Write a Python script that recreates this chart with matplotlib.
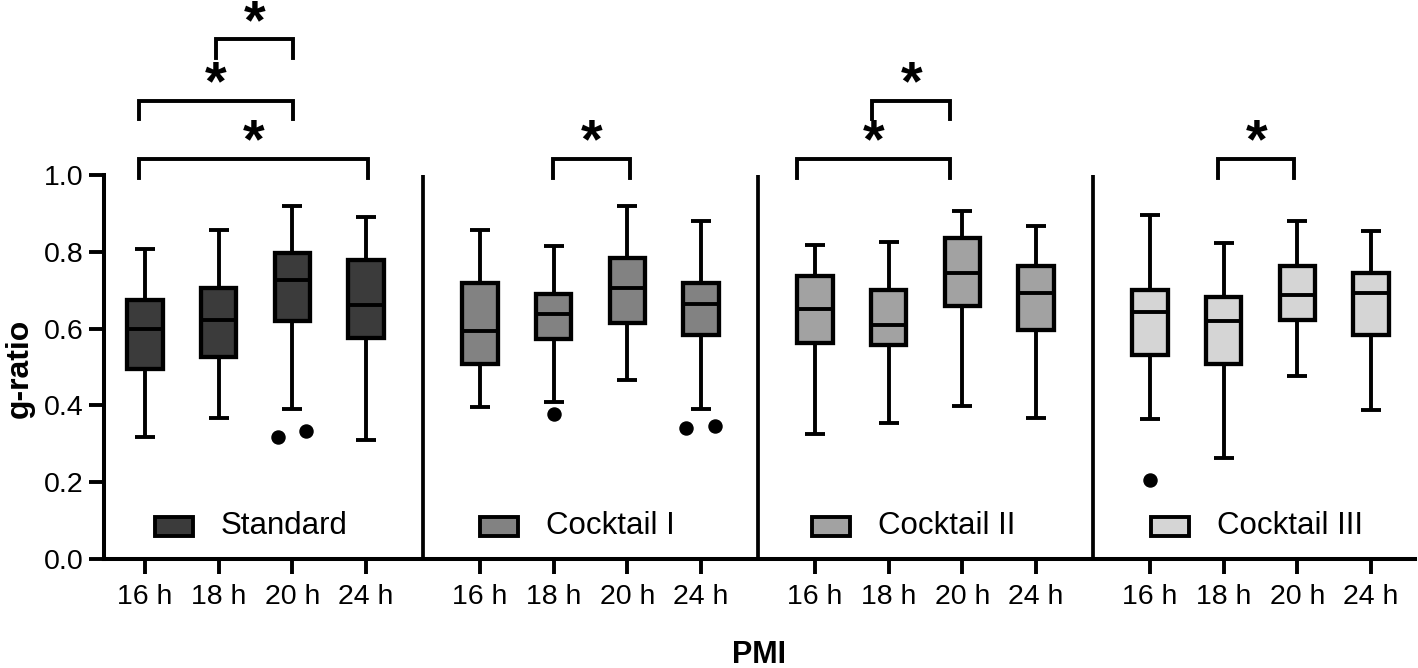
import matplotlib
matplotlib.use("Agg")
import matplotlib.pyplot as plt
from matplotlib.patches import Rectangle

plt.rcParams['font.family'] = ['Liberation Sans', 'DejaVu Sans']

# ---------------- data ----------------
groups = ["Standard", "Cocktail I", "Cocktail II", "Cocktail III"]
pmi_labels = ["16 h", "18 h", "20 h", "24 h"]
colors = ["#3b3b3b", "#828282", "#a2a2a2", "#d5d5d5"]

whislo = [[0.319, 0.368, 0.390, 0.311],
          [0.395, 0.410, 0.467, 0.390],
          [0.326, 0.353, 0.399, 0.368],
          [0.365, 0.264, 0.476, 0.387]]
q1 = [[0.495, 0.525, 0.619, 0.576],
      [0.508, 0.573, 0.614, 0.584],
      [0.563, 0.556, 0.660, 0.597],
      [0.531, 0.507, 0.623, 0.584]]
med = [[0.599, 0.623, 0.726, 0.662],
       [0.593, 0.638, 0.707, 0.663],
       [0.651, 0.609, 0.745, 0.692],
       [0.643, 0.619, 0.688, 0.694]]
q3 = [[0.675, 0.706, 0.797, 0.779],
      [0.719, 0.691, 0.783, 0.719],
      [0.736, 0.701, 0.836, 0.764],
      [0.700, 0.681, 0.764, 0.745]]
whishi = [[0.807, 0.857, 0.918, 0.890],
          [0.857, 0.815, 0.918, 0.881],
          [0.819, 0.825, 0.905, 0.867],
          [0.895, 0.823, 0.881, 0.854]]
# outliers: (group, pmi index) -> values
outliers = {(0, 2): [0.319, 0.333],
            (1, 1): [0.378],
            (1, 3): [0.341, 0.346],
            (3, 0): [0.207]}
# significance: (group, i, j, level)
sig_pairs = [(0, 0, 3, 0), (0, 0, 2, 1), (0, 1, 2, 2),
             (1, 1, 2, 0),
             (2, 0, 2, 0), (2, 1, 2, 1),
             (3, 1, 2, 0)]

# ---------------- layout ----------------
GSTEP = 4.545
fig = plt.figure(figsize=(14.18, 6.68), dpi=100)
ax = fig.add_axes([104 / 1418, 109 / 668, 1311 / 1418, 384 / 668])

positions, stats, fcols = [], [], []
for g in range(4):
    for i in range(4):
        positions.append(g * GSTEP + i)
        stats.append(dict(med=med[g][i], q1=q1[g][i], q3=q3[g][i],
                          whislo=whislo[g][i], whishi=whishi[g][i], fliers=[]))
        fcols.append(colors[g])

bp = ax.bxp(stats, positions=positions, widths=0.48, capwidths=0.27,
            patch_artist=True, showfliers=False,
            boxprops=dict(edgecolor='black', linewidth=3.1),
            whiskerprops=dict(color='black', linewidth=2.8, solid_capstyle='butt'),
            capprops=dict(color='black', linewidth=2.8, solid_capstyle='butt'),
            medianprops=dict(color='black', linewidth=2.8, solid_capstyle='butt'))
for patch, c in zip(bp['boxes'], fcols):
    patch.set_facecolor(c)

for (g, i), vals in outliers.items():
    x0 = g * GSTEP + i
    offs = [0.0] if len(vals) == 1 else [-0.2, 0.19]
    for v, o in zip(vals, offs):
        ax.plot(x0 + o, v, 'o', color='black', markersize=9.4, clip_on=False, zorder=5)

# group separators
for g in range(1, 4):
    xs = g * GSTEP - (GSTEP - 3) / 2
    ax.plot([xs, xs], [0, 1.0], color='black', linewidth=2.7, solid_capstyle='butt')

# legends inside each group
leg_left = [0.136, 4.543, 9.05, 13.65]
for g in range(4):
    xl = leg_left[g]
    ax.add_patch(Rectangle((xl, 0.060), 0.52, 0.050, facecolor=colors[g],
                           edgecolor='black', linewidth=2.8, clip_on=False, zorder=4))
    ax.text(xl + 0.895, 0.085, groups[g], fontsize=22.5, va='center', ha='left')

# significance brackets
level_y = [1.0416, 1.192, 1.353]
leg_y = [0.992, 1.145, 1.304]
star_y = [1.109, 1.262, 1.420]
offsets = {(0, 0, 3, 0): (-0.08, 0.03), (0, 0, 2, 1): (-0.08, 0.01),
           (0, 1, 2, 2): (-0.04, 0.01), (1, 1, 2, 0): (-0.01, 0.04),
           (2, 0, 2, 0): (-0.25, -0.17), (2, 1, 2, 1): (-0.22, -0.17),
           (3, 1, 2, 0): (-0.08, -0.04)}
for key in sig_pairs:
    g, i, j, lev = key
    dl, dr = offsets[key]
    xa = g * GSTEP + i + dl
    xb = g * GSTEP + j + dr
    ax.plot([xa, xa, xb, xb], [leg_y[lev], level_y[lev], level_y[lev], leg_y[lev]],
            color='black', linewidth=2.8, clip_on=False, solid_joinstyle='miter')
    ax.text((xa + xb) / 2, star_y[lev] - 0.064, "*", fontsize=40, fontweight='bold',
            ha='center', va='baseline', clip_on=False)

# axes styling
ax.set_xlim(-0.556, 17.23)
ax.set_ylim(0, 1.0)
ax.set_xticks(positions)
ax.set_xticklabels(pmi_labels * 4)
ax.set_yticks([0.0, 0.2, 0.4, 0.6, 0.8, 1.0])
ax.set_yticklabels(["0.0", "0.2", "0.4", "0.6", "0.8", "1.0"])
for s in ['top', 'right']:
    ax.spines[s].set_visible(False)
for s in ['left', 'bottom']:
    ax.spines[s].set_linewidth(2.9)
ax.tick_params(axis='both', width=2.8, length=11, labelsize=20.5)
ax.tick_params(axis='x', pad=7)
ax.tick_params(axis='y', pad=4)

fig.text(20 / 1418, 1 - 368 / 668, "g-ratio", rotation=90, fontsize=23,
         fontweight='bold', ha='center', va='center')
fig.text(759 / 1418, 1 - 663 / 668, "PMI", fontsize=22, fontweight='bold',
         ha='center', va='baseline')

fig.savefig("out.png", dpi=100)
